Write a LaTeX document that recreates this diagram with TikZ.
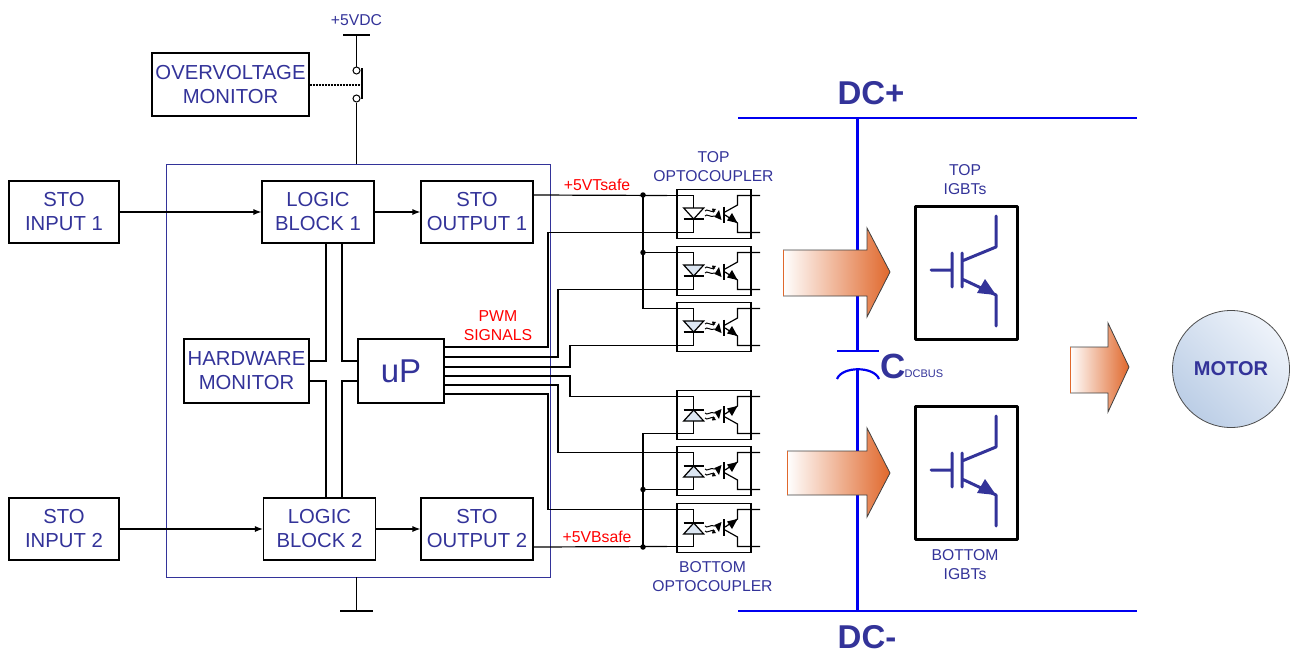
\documentclass[tikz,border=0pt]{standalone}
\usepackage{fontspec}
\usetikzlibrary{arrows.meta}
\setmainfont{Liberation Sans}
\definecolor{labelblue}{HTML}{333399}
\definecolor{busblue}{HTML}{0000F0}
\definecolor{arroworange}{HTML}{E0682C}
\definecolor{diodeblue}{HTML}{DCE6F2}
\definecolor{motorlight}{HTML}{EEF3FA}
\definecolor{motordark}{HTML}{BCCEE6}
\tikzset{
    block/.style={draw,line width=1.1pt,inner sep=0pt,align=center,text=labelblue,
        font=\fontsize{20.3}{24}\selectfont},
    tag/.style={align=center,inner sep=0pt,text=labelblue,font=\fontsize{15.7}{19}\selectfont},
    redtag/.style={align=center,inner sep=0pt,text=red,font=\fontsize{15.8}{19}\selectfont},
    wire/.style={line width=1.2pt},
    feed/.style={wire,-{Latex[length=8pt,width=6pt]}},
    dot/.style={circle,fill,inner sep=0pt,minimum size=5.5pt},
    bus/.style={line width=2.2pt,busblue},
    contact/.style={draw,circle,line width=1pt,inner sep=0pt,minimum size=7pt},
    pics/opto/.style={code={
        \draw[line width=1.2pt] (0,-24.5) rectangle (74,24.5);
        %% pins
        \draw[wire] (-10,-18.5) coordinate (-tl) -- (16.5,-18.5) -- (16.5,-6);
        \draw[wire] (-10,18.5) coordinate (-bl) -- (16.5,18.5) -- (16.5,5);
        \draw[wire] (83,-18.5) -- (60.5,-18.5) -- (60.5,-9) -- (48,-2);
        \draw[wire] (83,18.5) -- (60.5,18.5) -- (60.5,9) -- (48,1);
        %% diode
        \draw[wire,fill=#1] (6.7,-6) -- (26.7,-6) -- (16.7,5) -- cycle;
        \draw[wire] (6.7,5) -- (26.7,5);
        %% light
        \draw[line width=1pt] (28,-3) .. controls (30,-6) and (33,-1) .. (38,-3);
        \draw[line width=1pt] (28,2) .. controls (30,-1) and (33,4) .. (38,2);
        \fill (44.5,6) -- (37.5,3) -- (42,-4) -- cycle;
        \fill (39,-5) -- (35,-5.5) -- (36,-1) -- cycle;
        %% transistor
        \draw[line width=1.6pt] (47,-7.5) -- (47,9);
        \fill (60.5,9) -- (50,6.5) -- (55,-1) -- cycle;
    }},
    pics/igbt/.style={code={
        \draw[line width=3pt,line join=round] (0,0) rectangle (102,133);
        \draw[line width=3pt,labelblue,line cap=round,line join=round]
            (16,64) -- (37,64)
            (37,47) -- (37,81)
            (47,47) -- (47,81)
            (47,55) -- (81,41) -- (81,10)
            (47,73) -- (81,89) -- (81,120);
        \fill[labelblue] (81,89) -- (62,87) -- (70,73) -- cycle;
    }},
}
\begin{document}
\begin{tikzpicture}[x=1pt,y=-1pt]
    \useasboundingbox (0,0) rectangle (1295,653);
    %% Logic frame
    \draw[line width=1pt,labelblue] (166,164) rectangle (550,577);
    \coordinate (frametop) at (356.5,164);
    \coordinate (framebot) at (356.5,577);
    %% Blocks
    \node[block,minimum width=110pt,minimum height=62pt] (input1) at (64,212) {STO\\INPUT 1};
    \node[block,minimum width=110pt,minimum height=62pt] (input2) at (64,529) {STO\\INPUT 2};
    \node[block,minimum width=112pt,minimum height=62pt] (logic1) at (318,212) {LOGIC\\BLOCK 1};
    \node[block,minimum width=112pt,minimum height=62pt] (logic2) at (319.5,529) {LOGIC\\BLOCK 2};
    \node[block,minimum width=112pt,minimum height=62pt] (output1) at (477,212) {STO\\OUTPUT 1};
    \node[block,minimum width=112pt,minimum height=62pt] (output2) at (477,529) {STO\\OUTPUT 2};
    \node[block,minimum width=125pt,minimum height=64pt] (hwmon) at (246.5,371) {HARDWARE\\MONITOR};
    \node[block,minimum width=86pt,minimum height=64pt,font=\fontsize{33}{36}\selectfont] (up) at (401,371) {uP};
    \node[block,minimum width=157pt,minimum height=63pt] (ovmon) at (230.5,84.5) {OVERVOLTAGE\\MONITOR};
    %% Block wires
    \draw[feed] (input1) -- (logic1);
    \draw[feed] (logic1) -- (output1);
    \draw[feed] (input2) -- (logic2);
    \draw[feed] (logic2) -- (output2);
    \draw[wire] (hwmon.east |- 0,361) -| (logic1.south -| 326,0);
    \draw[wire] (hwmon.east |- 0,381) -| (logic2.north -| 326,0);
    \draw[wire] (up.west |- 0,361) -| (logic1.south -| 342,0);
    \draw[wire] (up.west |- 0,381) -| (logic2.north -| 342,0);
    %% Supply switch
    \coordinate (vcc) at (356.5,35);
    \coordinate (gnd) at (356.5,611);
    \node[tag] (vcclabel) at (356.5,20) {+5VDC};
    \node[contact] (sw1) at (356.5,70.5) {};
    \node[contact] (sw2) at (356.5,98.5) {};
    \draw[wire] (343,35) -- (370,35);
    \draw[wire] (vcc) -- (sw1);
    \draw[wire] (sw2) -- (frametop);
    \draw[line width=1.2pt] (362,68) -- (362,99);
    \coordinate (swbar) at (362,85);
    \draw[line width=2.2pt,dash pattern=on 2pt off 1pt] (ovmon.east |- swbar) -- (swbar);
    \draw[wire] (framebot) -- (gnd);
    \draw[wire] (340,611) -- (373,611);
    %% Optocouplers
    \foreach \name/\ypos/\fillc in {top1/214/white,top2/271/diodeblue,top3/327/diodeblue}
        \pic (\name) at (677,\ypos) {opto=\fillc};
    \foreach \name/\ypos in {bot1/415,bot2/471,bot3/528}
        \pic[yscale=-1] (\name) at (677,\ypos) {opto=diodeblue};
    %% Safe supplies
    \coordinate (out1) at (533,195);
    \coordinate (out2) at (533,547);
    \coordinate (jt) at (643,195);
    \coordinate (jb) at (643,547);
    \draw[wire] (out1) -- (top1-tl);
    \draw[wire] (out2) -- (bot3-tl);
    \draw[wire] (jt) |- (top3-tl);
    \draw[wire] (jb) |- (bot1-tl);
    \draw[wire] (jt |- top2-tl) -- (top2-tl);
    \draw[wire] (jb |- bot2-tl) -- (bot2-tl);
    \node[dot] (dot1) at (jt) {};
    \node[dot] (dot2) at (jt |- top2-tl) {};
    \node[dot] (dot3) at (jb |- bot2-tl) {};
    \node[dot] (dot4) at (jb) {};
    %% PWM lines
    \foreach \i/\ypos in {1/347,2/357,3/367,4/376,5/385,6/394}
        \coordinate (pwm\i) at (444,\ypos);
    \draw[wire] (pwm1) -- ++(104,0) |- (top1-bl);
    \draw[wire] (pwm2) -- ++(114,0) |- (top2-bl);
    \draw[wire] (pwm3) -- ++(126,0) |- (top3-bl);
    \draw[wire] (pwm4) -- ++(126,0) |- (bot1-bl);
    \draw[wire] (pwm5) -- ++(114,0) |- (bot2-bl);
    \draw[wire] (pwm6) -- ++(104,0) |- (bot3-bl);
    %% Labels
    \node[tag] (toptag) at (713.5,166.5) {TOP\\OPTOCOUPLER};
    \node[tag] (bottag) at (712.5,576.5) {BOTTOM\\OPTOCOUPLER};
    \node[tag] (igbttop) at (965,179.5) {TOP\\IGBTs};
    \node[tag] (igbtbot) at (965,564.5) {BOTTOM\\IGBTs};
    \node[redtag] (vtsafe) at (597,185) {+5VTsafe};
    \node[redtag] (vbsafe) at (597,537) {+5VBsafe};
    \node[redtag] (pwm) at (498,325.5) {PWM\\SIGNALS};
    %% DC bus
    \coordinate (plate1) at (857.5,351);
    \coordinate (plate2) at (857.5,370);
    \draw[bus] (738,118) coordinate (dcpl) -- (1137,118) coordinate (dcpr);
    \draw[bus] (738,611) coordinate (dcml) -- (1137,611) coordinate (dcmr);
    \draw[bus] (plate1 |- dcpl) -- (plate1);
    \draw[bus] (plate2) -- (plate2 |- dcml);
    \draw[bus] (837,351) -- (879,351);
    \draw[bus] (837,379) .. controls (842,366) and (874,366) .. (879,379);
    \node[text=labelblue,inner sep=0pt,font=\bfseries\fontsize{33}{33}\selectfont] (dcplus) at (871,93) {DC+};
    \node[text=labelblue,inner sep=0pt,font=\bfseries\fontsize{33}{33}\selectfont] (dcminus) at (867,637.5) {DC-};
    \node[text=labelblue,inner sep=0pt,font=\bfseries\fontsize{35}{35}\selectfont] (cap) at (893,366) {C};
    \node[text=labelblue,inner sep=0pt,font=\fontsize{11}{12}\selectfont,right=0pt] (capsub) at (904.5,374) {DCBUS};
    %% IGBTs
    \pic at (915,206) {igbt};
    \pic at (915,406) {igbt};
    %% Power arrows
    \foreach \xa/\xb/\xc/\ya/\yb/\yc/\yd/\ye in {783/867/890/228/250/272/296/317,
            787/867/890/428/451/473/495/517,1070/1108/1129/323/347/367/393/412} {
        \shade[left color=white,right color=arroworange]
            (\xa,\yb) -- (\xb,\yb) -- (\xb,\ya) -- (\xc,\yc) -- (\xb,\ye) -- (\xb,\yd) -- (\xa,\yd) -- cycle;
        \draw[line width=0.8pt,black!75] (\xa,\yb) -- (\xb,\yb) -- (\xb,\ya) -- (\xc,\yc) -- (\xb,\ye) -- (\xb,\yd) -- (\xa,\yd);
        \draw[line width=0.8pt,arroworange] (\xa,\yb) -- (\xa,\yd);
    }
    %% Motor
    \node[circle,draw=black!70,line width=0.8pt,minimum size=117pt,inner sep=0pt,
        top color=motorlight,bottom color=motordark,shading angle=-45,
        text=labelblue,font=\bfseries\fontsize{20}{22}\selectfont] (motor) at (1231,369) {MOTOR};
\end{tikzpicture}
\end{document}
